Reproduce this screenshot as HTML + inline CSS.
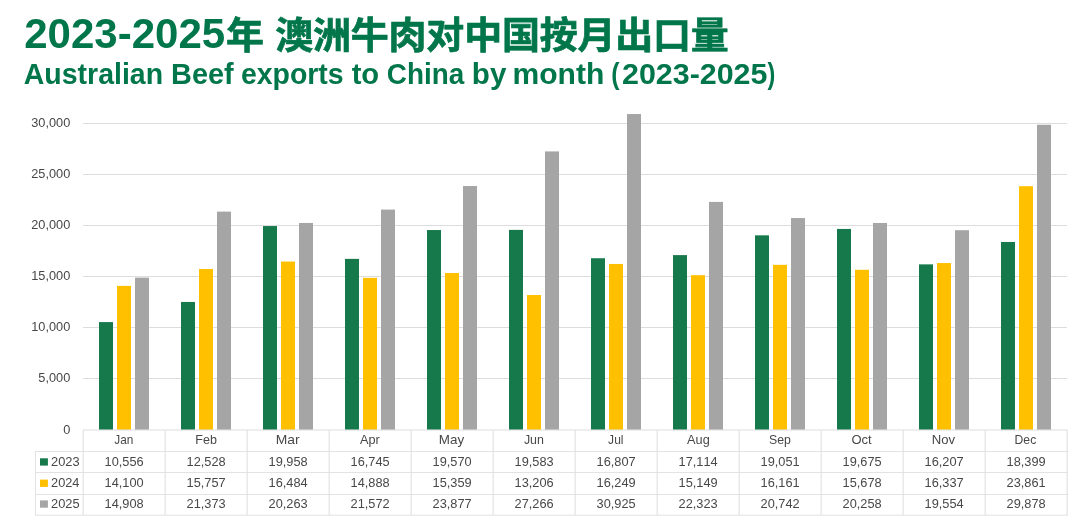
<!DOCTYPE html>
<html lang="zh">
<head>
<meta charset="utf-8">
<title>Australian Beef exports to China by month (2023-2025)</title>
<style>
html,body{margin:0;padding:0;background:#fff;}
body{width:1080px;height:522px;overflow:hidden;position:relative;font-family:"Liberation Sans","Noto Sans CJK SC",sans-serif;}
svg{position:absolute;left:0;top:0;display:block}
text{font-family:"Liberation Sans","Noto Sans CJK SC",sans-serif;font-kerning:none;}
.t1{font-weight:700;fill:#00764A}
.t2{font-weight:700;fill:#00764A}
.ax{fill:#484848;font-size:13.2px}
</style>
</head>
<body>
<svg width="1080" height="522" viewBox="0 0 1080 522">
<rect width="1080" height="522" fill="#fff"/>
<text class="t1" y="48" font-size="41.7"><tspan x="24.24" textLength="200.93" lengthAdjust="spacingAndGlyphs">2023-2025</tspan></text>
<text class="t1" transform="translate(0 49.3) scale(1 0.975)" font-size="38" stroke="#00764A" stroke-width="0.7"><tspan x="226" y="0">年</tspan> <tspan x="275.2" y="0" letter-spacing="-0.2">澳洲牛肉对中国按月出口量</tspan></text>
<text class="t2" y="84" font-size="30.1"><tspan x="23.79" textLength="139.28" lengthAdjust="spacingAndGlyphs">Australian</tspan> <tspan x="171.07" textLength="62.63" lengthAdjust="spacingAndGlyphs">Beef</tspan> <tspan x="240.89" textLength="102.78" lengthAdjust="spacingAndGlyphs">exports</tspan> <tspan x="351.64" textLength="27.49" lengthAdjust="spacingAndGlyphs">to</tspan> <tspan x="386.86" textLength="77.47" lengthAdjust="spacingAndGlyphs">China</tspan> <tspan x="471.79" textLength="34.61" lengthAdjust="spacingAndGlyphs">by</tspan> <tspan x="512.52" textLength="91.85" lengthAdjust="spacingAndGlyphs">month</tspan> <tspan x="611.36" textLength="8.26" lengthAdjust="spacingAndGlyphs">(</tspan><tspan x="622.05" textLength="145.40" lengthAdjust="spacingAndGlyphs">2023-2025</tspan><tspan x="767.58" textLength="7.79" lengthAdjust="spacingAndGlyphs">)</tspan></text>
<line x1="83" x2="1067" y1="378.5" y2="378.5" stroke="#DDDDDD" stroke-width="1"/>
<line x1="83" x2="1067" y1="327.5" y2="327.5" stroke="#DDDDDD" stroke-width="1"/>
<line x1="83" x2="1067" y1="276.5" y2="276.5" stroke="#DDDDDD" stroke-width="1"/>
<line x1="83" x2="1067" y1="225.5" y2="225.5" stroke="#DDDDDD" stroke-width="1"/>
<line x1="83" x2="1067" y1="174.5" y2="174.5" stroke="#DDDDDD" stroke-width="1"/>
<line x1="83" x2="1067" y1="123.5" y2="123.5" stroke="#DDDDDD" stroke-width="1"/>
<text class="ax" transform="translate(70.3 434) scale(0.968 1)" text-anchor="end">0</text>
<text class="ax" transform="translate(70.3 382) scale(0.968 1)" text-anchor="end">5,000</text>
<text class="ax" transform="translate(70.3 331) scale(0.968 1)" text-anchor="end">10,000</text>
<text class="ax" transform="translate(70.3 280) scale(0.968 1)" text-anchor="end">15,000</text>
<text class="ax" transform="translate(70.3 229) scale(0.968 1)" text-anchor="end">20,000</text>
<text class="ax" transform="translate(70.3 178) scale(0.968 1)" text-anchor="end">25,000</text>
<text class="ax" transform="translate(70.3 127) scale(0.968 1)" text-anchor="end">30,000</text>
<rect x="99" y="322.09" width="14" height="107.81" fill="#16794C"/>
<rect x="117" y="285.89" width="14" height="144.01" fill="#FFC000"/>
<rect x="135" y="277.64" width="14" height="152.26" fill="#A5A5A5"/>
<rect x="181" y="301.95" width="14" height="127.95" fill="#16794C"/>
<rect x="199" y="268.97" width="14" height="160.93" fill="#FFC000"/>
<rect x="217" y="211.61" width="14" height="218.29" fill="#A5A5A5"/>
<rect x="263" y="226.06" width="14" height="203.84" fill="#16794C"/>
<rect x="281" y="261.54" width="14" height="168.36" fill="#FFC000"/>
<rect x="299" y="222.95" width="14" height="206.95" fill="#A5A5A5"/>
<rect x="345" y="258.88" width="14" height="171.02" fill="#16794C"/>
<rect x="363" y="277.84" width="14" height="152.06" fill="#FFC000"/>
<rect x="381" y="209.58" width="14" height="220.32" fill="#A5A5A5"/>
<rect x="427" y="230.03" width="14" height="199.87" fill="#16794C"/>
<rect x="445" y="273.03" width="14" height="156.87" fill="#FFC000"/>
<rect x="463" y="186.04" width="14" height="243.86" fill="#A5A5A5"/>
<rect x="509" y="229.89" width="14" height="200.01" fill="#16794C"/>
<rect x="527" y="295.02" width="14" height="134.88" fill="#FFC000"/>
<rect x="545" y="151.42" width="14" height="278.48" fill="#A5A5A5"/>
<rect x="591" y="258.24" width="14" height="171.66" fill="#16794C"/>
<rect x="609" y="263.94" width="14" height="165.96" fill="#FFC000"/>
<rect x="627" y="114.05" width="14" height="315.85" fill="#A5A5A5"/>
<rect x="673" y="255.11" width="14" height="174.79" fill="#16794C"/>
<rect x="691" y="275.18" width="14" height="154.72" fill="#FFC000"/>
<rect x="709" y="201.91" width="14" height="227.99" fill="#A5A5A5"/>
<rect x="755" y="235.33" width="14" height="194.57" fill="#16794C"/>
<rect x="773" y="264.84" width="14" height="165.06" fill="#FFC000"/>
<rect x="791" y="218.06" width="14" height="211.84" fill="#A5A5A5"/>
<rect x="837" y="228.95" width="14" height="200.95" fill="#16794C"/>
<rect x="855" y="269.78" width="14" height="160.12" fill="#FFC000"/>
<rect x="873" y="223.00" width="14" height="206.90" fill="#A5A5A5"/>
<rect x="919" y="264.37" width="14" height="165.53" fill="#16794C"/>
<rect x="937" y="263.04" width="14" height="166.86" fill="#FFC000"/>
<rect x="955" y="230.19" width="14" height="199.71" fill="#A5A5A5"/>
<rect x="1001" y="241.98" width="14" height="187.92" fill="#16794C"/>
<rect x="1019" y="186.20" width="14" height="243.70" fill="#FFC000"/>
<rect x="1037" y="124.75" width="14" height="305.15" fill="#A5A5A5"/>
<line x1="83" x2="1067.5" y1="430.0" y2="430.0" stroke="#DDDDDD"/>
<line x1="35" x2="1067.5" y1="451.5" y2="451.5" stroke="#E3E3E3"/>
<line x1="35" x2="1067.5" y1="472.5" y2="472.5" stroke="#E3E3E3"/>
<line x1="35" x2="1067.5" y1="494.5" y2="494.5" stroke="#E3E3E3"/>
<line x1="35" x2="1067.5" y1="515.2" y2="515.2" stroke="#E3E3E3"/>
<line x1="35.5" x2="35.5" y1="451.5" y2="515.2" stroke="#E3E3E3"/>
<line x1="83.15" x2="83.15" y1="430.0" y2="515.2" stroke="#DDDDDD"/>
<line x1="165.15" x2="165.15" y1="430.0" y2="515.2" stroke="#DDDDDD"/>
<line x1="247.15" x2="247.15" y1="430.0" y2="515.2" stroke="#DDDDDD"/>
<line x1="329.15" x2="329.15" y1="430.0" y2="515.2" stroke="#DDDDDD"/>
<line x1="411.15" x2="411.15" y1="430.0" y2="515.2" stroke="#DDDDDD"/>
<line x1="493.15" x2="493.15" y1="430.0" y2="515.2" stroke="#DDDDDD"/>
<line x1="575.15" x2="575.15" y1="430.0" y2="515.2" stroke="#DDDDDD"/>
<line x1="657.15" x2="657.15" y1="430.0" y2="515.2" stroke="#DDDDDD"/>
<line x1="739.15" x2="739.15" y1="430.0" y2="515.2" stroke="#DDDDDD"/>
<line x1="821.15" x2="821.15" y1="430.0" y2="515.2" stroke="#DDDDDD"/>
<line x1="903.15" x2="903.15" y1="430.0" y2="515.2" stroke="#DDDDDD"/>
<line x1="985.15" x2="985.15" y1="430.0" y2="515.2" stroke="#DDDDDD"/>
<line x1="1067.15" x2="1067.15" y1="430.0" y2="515.2" stroke="#DDDDDD"/>
<text class="ax" x="114.22" y="444" textLength="19.05" lengthAdjust="spacingAndGlyphs">Jan</text>
<text class="ax" transform="translate(124.1 466) scale(0.968 1)" text-anchor="middle">10,556</text>
<text class="ax" transform="translate(124.1 487) scale(0.968 1)" text-anchor="middle">14,100</text>
<text class="ax" transform="translate(124.1 508) scale(0.968 1)" text-anchor="middle">14,908</text>
<text class="ax" x="195.37" y="444" textLength="21.55" lengthAdjust="spacingAndGlyphs">Feb</text>
<text class="ax" transform="translate(206.1 466) scale(0.968 1)" text-anchor="middle">12,528</text>
<text class="ax" transform="translate(206.1 487) scale(0.968 1)" text-anchor="middle">15,757</text>
<text class="ax" transform="translate(206.1 508) scale(0.968 1)" text-anchor="middle">21,373</text>
<text class="ax" x="275.66" y="444" textLength="23.87" lengthAdjust="spacingAndGlyphs">Mar</text>
<text class="ax" transform="translate(288.1 466) scale(0.968 1)" text-anchor="middle">19,958</text>
<text class="ax" transform="translate(288.1 487) scale(0.968 1)" text-anchor="middle">16,484</text>
<text class="ax" transform="translate(288.1 508) scale(0.968 1)" text-anchor="middle">20,263</text>
<text class="ax" x="360.08" y="444" textLength="19.74" lengthAdjust="spacingAndGlyphs">Apr</text>
<text class="ax" transform="translate(370.1 466) scale(0.968 1)" text-anchor="middle">16,745</text>
<text class="ax" transform="translate(370.1 487) scale(0.968 1)" text-anchor="middle">14,888</text>
<text class="ax" transform="translate(370.1 508) scale(0.968 1)" text-anchor="middle">21,572</text>
<text class="ax" x="438.80" y="444" textLength="25.33" lengthAdjust="spacingAndGlyphs">May</text>
<text class="ax" transform="translate(452.1 466) scale(0.968 1)" text-anchor="middle">19,570</text>
<text class="ax" transform="translate(452.1 487) scale(0.968 1)" text-anchor="middle">15,359</text>
<text class="ax" transform="translate(452.1 508) scale(0.968 1)" text-anchor="middle">23,877</text>
<text class="ax" x="523.91" y="444" textLength="20.00" lengthAdjust="spacingAndGlyphs">Jun</text>
<text class="ax" transform="translate(534.1 466) scale(0.968 1)" text-anchor="middle">19,583</text>
<text class="ax" transform="translate(534.1 487) scale(0.968 1)" text-anchor="middle">13,206</text>
<text class="ax" transform="translate(534.1 508) scale(0.968 1)" text-anchor="middle">27,266</text>
<text class="ax" x="608.11" y="444" textLength="15.39" lengthAdjust="spacingAndGlyphs">Jul</text>
<text class="ax" transform="translate(616.1 466) scale(0.968 1)" text-anchor="middle">16,807</text>
<text class="ax" transform="translate(616.1 487) scale(0.968 1)" text-anchor="middle">16,249</text>
<text class="ax" transform="translate(616.1 508) scale(0.968 1)" text-anchor="middle">30,925</text>
<text class="ax" x="687.08" y="444" textLength="22.65" lengthAdjust="spacingAndGlyphs">Aug</text>
<text class="ax" transform="translate(698.1 466) scale(0.968 1)" text-anchor="middle">17,114</text>
<text class="ax" transform="translate(698.1 487) scale(0.968 1)" text-anchor="middle">15,149</text>
<text class="ax" transform="translate(698.1 508) scale(0.968 1)" text-anchor="middle">22,323</text>
<text class="ax" x="769.04" y="444" textLength="21.87" lengthAdjust="spacingAndGlyphs">Sep</text>
<text class="ax" transform="translate(780.1 466) scale(0.968 1)" text-anchor="middle">19,051</text>
<text class="ax" transform="translate(780.1 487) scale(0.968 1)" text-anchor="middle">16,161</text>
<text class="ax" transform="translate(780.1 508) scale(0.968 1)" text-anchor="middle">20,742</text>
<text class="ax" x="851.48" y="444" textLength="20.21" lengthAdjust="spacingAndGlyphs">Oct</text>
<text class="ax" transform="translate(862.1 466) scale(0.968 1)" text-anchor="middle">19,675</text>
<text class="ax" transform="translate(862.1 487) scale(0.968 1)" text-anchor="middle">15,678</text>
<text class="ax" transform="translate(862.1 508) scale(0.968 1)" text-anchor="middle">20,258</text>
<text class="ax" x="931.82" y="444" textLength="23.32" lengthAdjust="spacingAndGlyphs">Nov</text>
<text class="ax" transform="translate(944.1 466) scale(0.968 1)" text-anchor="middle">16,207</text>
<text class="ax" transform="translate(944.1 487) scale(0.968 1)" text-anchor="middle">16,337</text>
<text class="ax" transform="translate(944.1 508) scale(0.968 1)" text-anchor="middle">19,554</text>
<text class="ax" x="1014.60" y="444" textLength="21.62" lengthAdjust="spacingAndGlyphs">Dec</text>
<text class="ax" transform="translate(1026.1 466) scale(0.968 1)" text-anchor="middle">18,399</text>
<text class="ax" transform="translate(1026.1 487) scale(0.968 1)" text-anchor="middle">23,861</text>
<text class="ax" transform="translate(1026.1 508) scale(0.968 1)" text-anchor="middle">29,878</text>
<rect x="40" y="458.3" width="7.9" height="7.3" fill="#16794C"/>
<text class="ax" x="51.05" y="466" textLength="28.61" lengthAdjust="spacingAndGlyphs">2023</text>
<rect x="40" y="479.6" width="7.9" height="7.3" fill="#FFC000"/>
<text class="ax" x="51.06" y="487" textLength="28.42" lengthAdjust="spacingAndGlyphs">2024</text>
<rect x="40" y="500.4" width="7.9" height="7.3" fill="#A5A5A5"/>
<text class="ax" x="51.05" y="508" textLength="28.59" lengthAdjust="spacingAndGlyphs">2025</text>
</svg>
</body>
</html>
